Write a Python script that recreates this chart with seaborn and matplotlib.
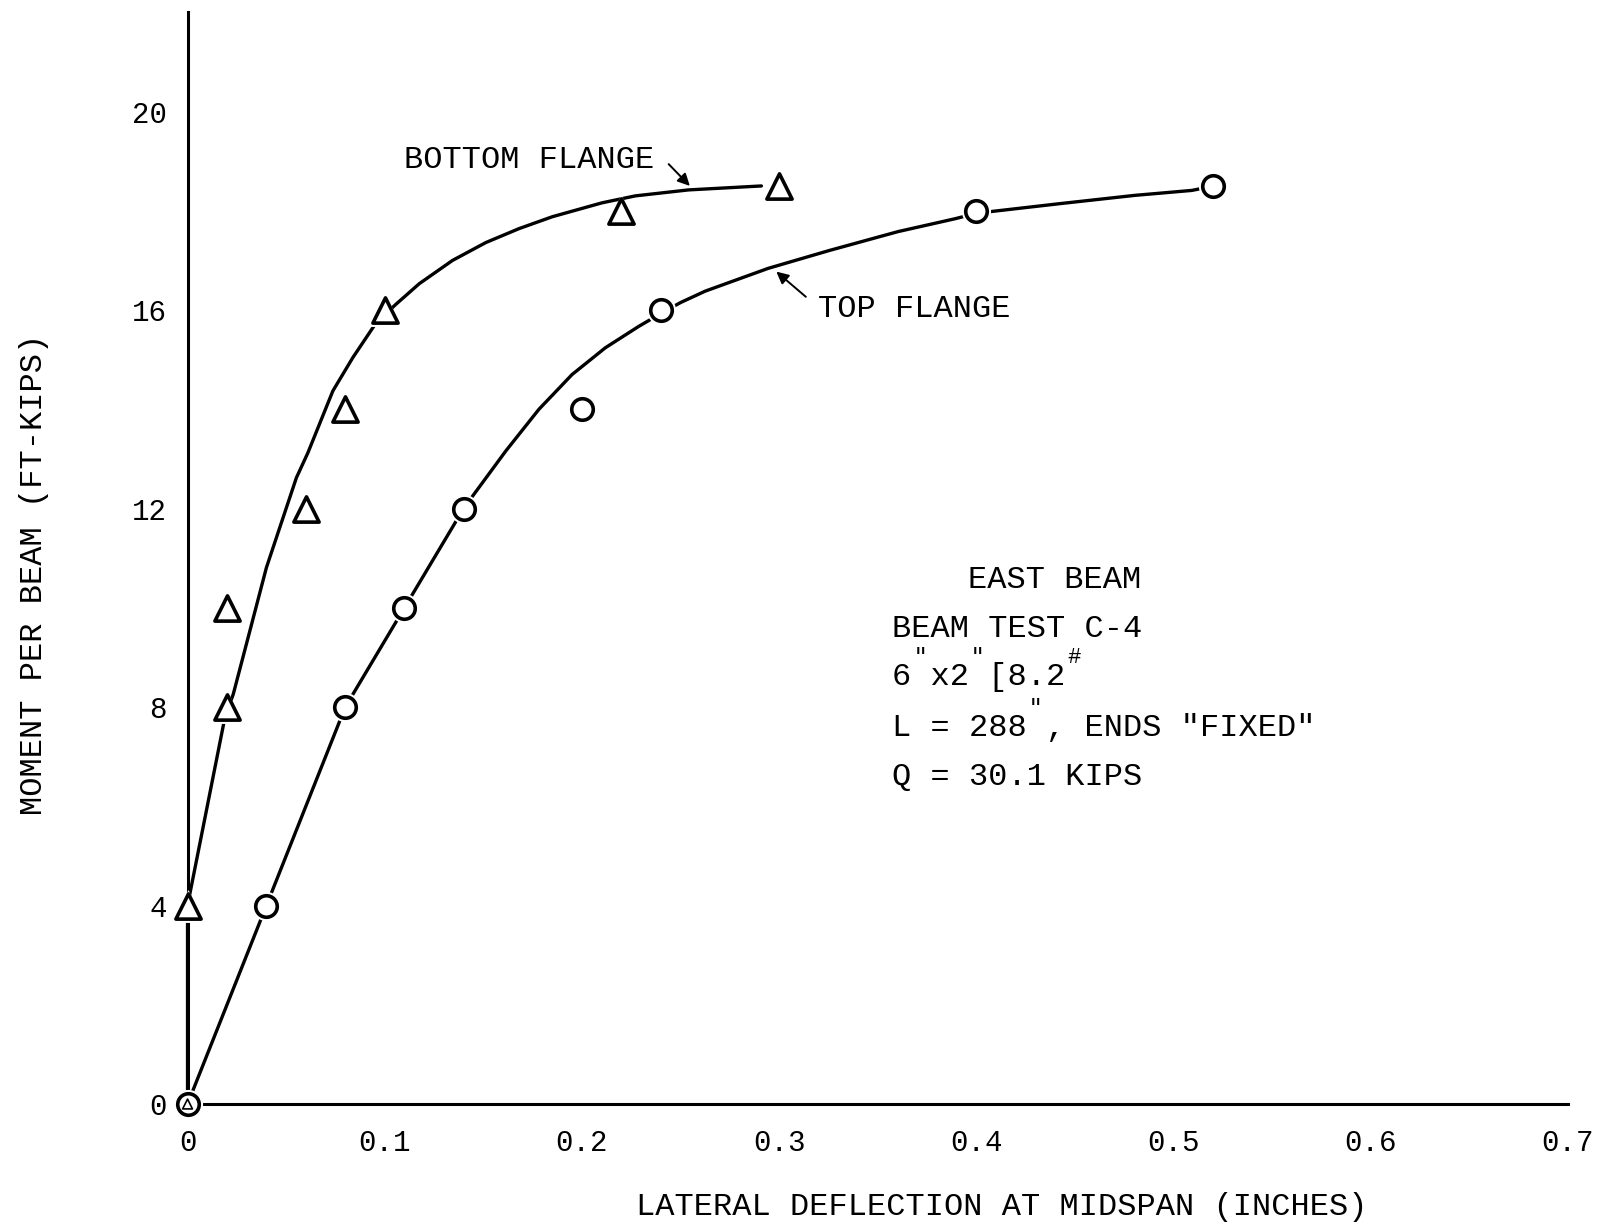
import numpy as np
import pandas as pd
import matplotlib
matplotlib.use("Agg")
import matplotlib.pyplot as plt
import seaborn as sns

# measured points (deflection in inches, moment in ft-kips)
bottom_x = [0.0, 0.02, 0.02, 0.06, 0.08, 0.10, 0.22, 0.30]
bottom_y = [4, 8, 10, 12, 14, 16, 18, 18.5]
top_x = [0.0, 0.04, 0.08, 0.11, 0.14, 0.20, 0.24, 0.40, 0.52]
top_y = [0, 4, 8, 10, 12, 14, 16, 18, 18.5]

# hand-faired curves
bottom_curve_x = [0.0, 0.0, 0.019, 0.0232, 0.0325, 0.040, 0.0468, 0.0552, 0.061, 0.0737,
                  0.0838, 0.0956, 0.1058, 0.1175, 0.1344, 0.1513, 0.1681, 0.185, 0.2102,
                  0.2271, 0.254, 0.291]
bottom_curve_y = [0, 4, 7.8, 8.26, 9.67, 10.81, 11.62, 12.62, 13.12, 14.37,
                  15.04, 15.74, 16.12, 16.53, 17.0, 17.36, 17.64, 17.88, 18.16,
                  18.30, 18.42, 18.50]
top_curve_x = [0.0, 0.04, 0.08, 0.11, 0.14, 0.1453, 0.1614, 0.1782, 0.195, 0.2119, 0.2288,
               0.24, 0.25, 0.2625, 0.2945, 0.3255, 0.3603, 0.3893, 0.40, 0.4416, 0.4803,
               0.5093, 0.518]
top_curve_y = [0, 4, 8, 10, 12, 12.29, 13.16, 14.0, 14.70, 15.24, 15.67,
               15.93, 16.15, 16.38, 16.84, 17.2, 17.58, 17.84, 17.95, 18.14, 18.31,
               18.41, 18.48]

x_ticks = [0, 0.1, 0.2, 0.3, 0.4, 0.5, 0.6, 0.7]
x_labels = ["0", "0.1", "0.2", "0.3", "0.4", "0.5", "0.6", "0.7"]
y_ticks = [0, 4, 8, 12, 16, 20]

sns.set_theme(style="white")
plt.rcParams["font.family"] = ["Liberation Mono", "DejaVu Sans"]
plt.rcParams["text.color"] = "black"

fig, ax = plt.subplots(figsize=(16.07, 12.26), dpi=100)
fig.subplots_adjust(left=0.1167, right=0.9757, bottom=0.0995, top=0.99)

bottom = pd.DataFrame({"x": bottom_curve_x, "y": bottom_curve_y})
top = pd.DataFrame({"x": top_curve_x, "y": top_curve_y})
sns.lineplot(data=bottom, x="x", y="y", sort=False, estimator=None, color="black", lw=2.4, ax=ax)
sns.lineplot(data=top, x="x", y="y", sort=False, estimator=None, color="black", lw=2.4, ax=ax)

# white halo under markers so the curve stops short of them
sns.scatterplot(x=bottom_x, y=bottom_y, marker="^", s=560, color="white", linewidth=0, ax=ax, zorder=3)
sns.scatterplot(x=top_x, y=top_y, marker="o", s=440, color="white", linewidth=0, ax=ax, zorder=3)
sns.scatterplot(x=bottom_x, y=bottom_y, marker="^", s=330, facecolor="white", edgecolor="black",
                linewidth=2.6, ax=ax, zorder=4)
sns.scatterplot(x=top_x, y=top_y, marker="o", s=240, facecolor="white", edgecolor="black",
                linewidth=2.6, ax=ax, zorder=4)
ax.scatter([0], [0], marker="^", s=50, facecolor="none", edgecolor="black", linewidth=1.2, zorder=5,
           clip_on=False)
for art in ax.lines + ax.collections:
    art.set_clip_on(False)

ax.set_xlim(0, 0.7)
ax.set_ylim(0, 22)
ax.set_xticks(x_ticks)
ax.set_xticklabels(x_labels)
ax.set_yticks(y_ticks)
sns.despine(ax=ax)
for side in ["left", "bottom"]:
    ax.spines[side].set_linewidth(2.2)
    ax.spines[side].set_color("black")
ax.tick_params(axis="both", direction="in", length=13, width=1.6, color="black",
               labelsize=21, labelcolor="black")
ax.tick_params(axis="x", pad=18)
ax.tick_params(axis="y", pad=15)

ax.set_xlabel("LATERAL DEFLECTION AT MIDSPAN (INCHES)", fontsize=23, color="black", va="center")
ax.xaxis.set_label_coords(0.59, -0.094)
ax.set_ylabel("MOMENT PER BEAM (FT-KIPS)", fontsize=23, color="black", va="center")
ax.yaxis.set_label_coords(-0.111, 0.485)

fs = 23
adv = 0.6 * fs


def typed(x, y, s, sups=()):
    ax.text(x, y, s, fontsize=fs, ha="left", va="center")
    for i, ch in sups:
        ax.annotate(ch, (x, y), xytext=(i * adv + 0.15 * adv, 0.62 * fs), textcoords="offset points",
                    fontsize=0.7 * fs, ha="left", va="center")


# curve labels with leader arrows
ax.text(0.1099, 19.02, "BOTTOM FLANGE", fontsize=fs, ha="left", va="center")
ax.annotate("", xy=(0.2557, 18.46), xytext=(0.243, 18.98),
            arrowprops=dict(arrowstyle="-|>", color="black", lw=1.4, mutation_scale=18))
ax.text(0.3198, 16.03, "TOP FLANGE", fontsize=fs, ha="left", va="center")
ax.annotate("", xy=(0.2975, 16.81), xytext=(0.3146, 16.23),
            arrowprops=dict(arrowstyle="-|>", color="black", lw=1.4, mutation_scale=18))

# test description block
typed(0.396, 10.56, "EAST BEAM")
typed(0.357, 9.58, "BEAM TEST C-4")
typed(0.357, 8.60, "6 x2 [8.2", sups=[(1, '"'), (4, '"'), (9, "#")])
typed(0.357, 7.57, 'L = 288 , ENDS "FIXED"', sups=[(7, '"')])
typed(0.357, 6.58, "Q = 30.1 KIPS")

fig.savefig("out.png", dpi=100, facecolor="white")
